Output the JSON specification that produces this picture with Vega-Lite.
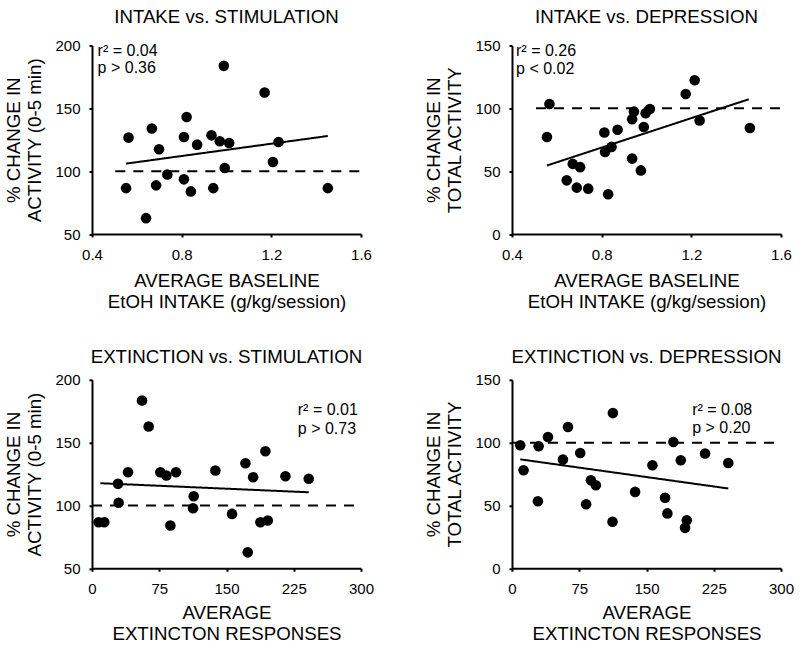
{
  "$schema": "https://vega.github.io/schema/vega-lite/v6.json",
  "autosize": {"type": "none"},
  "padding": {"left": 92, "top": 45.5, "right": 708, "bottom": 602.5},
  "background": "white",
  "columns": 2,
  "bounds": "flush",
  "spacing": {"row": 145.3, "column": 151},
  "config": {
    "font": "Liberation Sans",
    "view": {"stroke": null},
    "axis": {"grid": false, "labelFlush": false, "domainColor": "black", "domainWidth": 2, "tickColor": "black", "tickWidth": 2, "tickSize": 3, "labelFontSize": 15, "labelColor": "black", "titleFontSize": 18.7, "titleFontWeight": "normal", "titleColor": "black", "titleLineHeight": 21},
    "axisX": {"labelPadding": 10},
    "axisY": {"labelPadding": 9, "titlePadding": 10},
    "title": {"fontSize": 18.7, "fontWeight": "normal", "color": "black", "frame": "group", "baseline": "alphabetic", "anchor": "middle"},
    "text": {"font": "Liberation Sans"}
  },
  "concat": [
    {
      "width": 269, "height": 188.5,
      "title": {"text": "INTAKE vs. STIMULATION", "offset": 12},
      "layer": [
        {
          "data": {"values": [
            {"x":0.563,"y":126.7},{"x":0.552,"y":86.5},{"x":0.667,"y":133.9},{"x":0.699,"y":117.4},{"x":0.641,"y":62.6},{"x":0.686,"y":88.7},{"x":0.736,"y":97.4},{"x":0.822,"y":143.1},{"x":0.810,"y":127.2},{"x":0.810,"y":93.5},{"x":0.841,"y":83.9},{"x":0.869,"y":121.1},{"x":0.933,"y":128.5},{"x":0.970,"y":123.8},{"x":1.012,"y":122.4},{"x":0.941,"y":86.5},{"x":0.988,"y":183.8},{"x":0.992,"y":102.5},{"x":1.170,"y":162.6},{"x":1.207,"y":107.3},{"x":1.232,"y":123.2},{"x":1.452,"y":86.5}
          ]},
          "mark": {"type": "circle", "size": 112, "opacity": 1, "color": "black"},
          "encoding": {
            "x": {"field": "x", "type": "quantitative", "scale": {"domain": [0.4, 1.6], "nice": false, "zero": false}, "axis": {"values": [0.4, 0.8, 1.2, 1.6], "format": ".1f", "title": ["AVERAGE BASELINE", "EtOH INTAKE (g/kg/session)"], "titlePadding": 9}},
            "y": {"field": "y", "type": "quantitative", "scale": {"domain": [50, 200], "nice": false, "zero": false}, "axis": {"values": [50, 100, 150, 200], "title": ["% CHANGE IN", "ACTIVITY (0-5 min)"]}}
          }
        },
        {
          "data": {"values": [
            {"x":0.504,"y":100,"k":"ref"},{"x":1.6,"y":100,"k":"ref"},{"x":0.552,"y":106.0,"k":"fit"},{"x":1.452,"y":128.0,"k":"fit"}
          ]},
          "mark": {"type": "line", "color": "black", "strokeWidth": 2},
          "encoding": {
            "x": {"field": "x", "type": "quantitative"},
            "y": {"field": "y", "type": "quantitative"},
            "strokeDash": {"field": "k", "type": "nominal", "scale": {"domain": ["fit", "ref"], "range": [[1, 0], [10, 8]]}, "legend": null}
          }
        },
        {
          "data": {"values": [
            {"x":0.425,"y":191.5,"t":"r² = 0.04"},{"x":0.425,"y":177.8,"t":"p > 0.36"}
          ]},
          "mark": {"type": "text", "align": "left", "baseline": "alphabetic", "fontSize": 16, "color": "black"},
          "encoding": {
            "x": {"field": "x", "type": "quantitative"},
            "y": {"field": "y", "type": "quantitative"},
            "text": {"field": "t"}
          }
        }
      ]
    },
    {
      "width": 269, "height": 188.5,
      "title": {"text": "INTAKE vs. DEPRESSION", "offset": 12},
      "layer": [
        {
          "data": {"values": [
            {"x":0.567,"y":103.5},{"x":0.556,"y":77.2},{"x":0.644,"y":42.7},{"x":0.671,"y":55.8},{"x":0.704,"y":53.2},{"x":0.689,"y":36.9},{"x":0.740,"y":36.1},{"x":0.812,"y":80.8},{"x":0.815,"y":65.3},{"x":0.844,"y":69.3},{"x":0.871,"y":82.9},{"x":0.829,"y":31.6},{"x":0.936,"y":91.4},{"x":0.944,"y":97.4},{"x":0.936,"y":60.0},{"x":0.975,"y":50.6},{"x":0.988,"y":85.1},{"x":0.996,"y":96.1},{"x":1.015,"y":99.5},{"x":1.175,"y":111.4},{"x":1.215,"y":122.4},{"x":1.237,"y":90.3},{"x":1.461,"y":84.3}
          ]},
          "mark": {"type": "circle", "size": 112, "opacity": 1, "color": "black"},
          "encoding": {
            "x": {"field": "x", "type": "quantitative", "scale": {"domain": [0.4, 1.6], "nice": false, "zero": false}, "axis": {"values": [0.4, 0.8, 1.2, 1.6], "format": ".1f", "title": ["AVERAGE BASELINE", "EtOH INTAKE (g/kg/session)"], "titlePadding": 9}},
            "y": {"field": "y", "type": "quantitative", "scale": {"domain": [0, 150], "nice": false, "zero": false}, "axis": {"values": [0, 50, 100, 150], "title": ["% CHANGE IN", "TOTAL ACTIVITY"]}}
          }
        },
        {
          "data": {"values": [
            {"x":0.507,"y":100,"k":"ref"},{"x":1.6,"y":100,"k":"ref"},{"x":0.556,"y":54.5,"k":"fit"},{"x":1.456,"y":107.2,"k":"fit"}
          ]},
          "mark": {"type": "line", "color": "black", "strokeWidth": 2},
          "encoding": {
            "x": {"field": "x", "type": "quantitative"},
            "y": {"field": "y", "type": "quantitative"},
            "strokeDash": {"field": "k", "type": "nominal", "scale": {"domain": ["fit", "ref"], "range": [[1, 0], [10, 8]]}, "legend": null}
          }
        },
        {
          "data": {"values": [
            {"x":0.418,"y":141.4,"t":"r² = 0.26"},{"x":0.418,"y":127.7,"t":"p < 0.02"}
          ]},
          "mark": {"type": "text", "align": "left", "baseline": "alphabetic", "fontSize": 16, "color": "black"},
          "encoding": {
            "x": {"field": "x", "type": "quantitative"},
            "y": {"field": "y", "type": "quantitative"},
            "text": {"field": "t"}
          }
        }
      ]
    },
    {
      "width": 269, "height": 188.5,
      "title": {"text": "EXTINCTION vs. STIMULATION", "offset": 6},
      "layer": [
        {
          "data": {"values": [
            {"x":7.4,"y":86.6},{"x":13.7,"y":86.6},{"x":29.0,"y":117.2},{"x":29.7,"y":102.1},{"x":40.2,"y":126.4},{"x":55.8,"y":183.5},{"x":63.2,"y":162.8},{"x":76.2,"y":126.4},{"x":82.9,"y":123.8},{"x":93.7,"y":126.4},{"x":87.4,"y":84.0},{"x":113.4,"y":107.3},{"x":112.7,"y":97.8},{"x":137.6,"y":127.8},{"x":156.2,"y":93.3},{"x":171.1,"y":133.6},{"x":173.7,"y":62.7},{"x":179.7,"y":122.5},{"x":193.4,"y":143.2},{"x":187.8,"y":86.6},{"x":196.0,"y":88.0},{"x":215.7,"y":123.2},{"x":241.7,"y":121.2}
          ]},
          "mark": {"type": "circle", "size": 112, "opacity": 1, "color": "black"},
          "encoding": {
            "x": {"field": "x", "type": "quantitative", "scale": {"domain": [0, 300], "nice": false, "zero": false}, "axis": {"values": [0, 75, 150, 225, 300], "title": ["AVERAGE", "EXTINCTON RESPONSES"], "titlePadding": 7}},
            "y": {"field": "y", "type": "quantitative", "scale": {"domain": [50, 200], "nice": false, "zero": false}, "axis": {"values": [50, 100, 150, 200], "title": ["% CHANGE IN", "ACTIVITY (0-5 min)"]}}
          }
        },
        {
          "data": {"values": [
            {"x":0,"y":100,"k":"ref"},{"x":300,"y":100,"k":"ref"},{"x":9.3,"y":117.7,"k":"fit"},{"x":241.7,"y":110.5,"k":"fit"}
          ]},
          "mark": {"type": "line", "color": "black", "strokeWidth": 2},
          "encoding": {
            "x": {"field": "x", "type": "quantitative"},
            "y": {"field": "y", "type": "quantitative"},
            "strokeDash": {"field": "k", "type": "nominal", "scale": {"domain": ["fit", "ref"], "range": [[1, 0], [10, 8]]}, "legend": null}
          }
        },
        {
          "data": {"values": [
            {"x":229.5,"y":171.6,"t":"r² = 0.01"},{"x":229.5,"y":157.2,"t":"p > 0.73"}
          ]},
          "mark": {"type": "text", "align": "left", "baseline": "alphabetic", "fontSize": 16, "color": "black"},
          "encoding": {
            "x": {"field": "x", "type": "quantitative"},
            "y": {"field": "y", "type": "quantitative"},
            "text": {"field": "t"}
          }
        }
      ]
    },
    {
      "width": 269, "height": 188.5,
      "title": {"text": "EXTINCTION vs. DEPRESSION", "offset": 6},
      "layer": [
        {
          "data": {"values": [
            {"x":9.2,"y":97.9},{"x":12.9,"y":78.0},{"x":29.7,"y":97.1},{"x":28.9,"y":53.4},{"x":40.1,"y":104.4},{"x":56.8,"y":86.5},{"x":62.4,"y":112.4},{"x":76.1,"y":91.8},{"x":82.7,"y":51.0},{"x":88.0,"y":70.1},{"x":93.5,"y":66.1},{"x":112.5,"y":123.5},{"x":112.1,"y":37.0},{"x":137.3,"y":60.8},{"x":156.6,"y":82.0},{"x":170.7,"y":56.1},{"x":173.3,"y":43.7},{"x":180.0,"y":100.5},{"x":188.2,"y":86.0},{"x":194.9,"y":38.3},{"x":193.0,"y":32.2},{"x":215.3,"y":91.3},{"x":241.2,"y":83.8}
          ]},
          "mark": {"type": "circle", "size": 112, "opacity": 1, "color": "black"},
          "encoding": {
            "x": {"field": "x", "type": "quantitative", "scale": {"domain": [0, 300], "nice": false, "zero": false}, "axis": {"values": [0, 75, 150, 225, 300], "title": ["AVERAGE", "EXTINCTON RESPONSES"], "titlePadding": 7}},
            "y": {"field": "y", "type": "quantitative", "scale": {"domain": [0, 150], "nice": false, "zero": false}, "axis": {"values": [0, 50, 100, 150], "title": ["% CHANGE IN", "TOTAL  ACTIVITY"]}}
          }
        },
        {
          "data": {"values": [
            {"x":0,"y":100,"k":"ref"},{"x":300,"y":100,"k":"ref"},{"x":9.2,"y":86.7,"k":"fit"},{"x":241.2,"y":63.5,"k":"fit"}
          ]},
          "mark": {"type": "line", "color": "black", "strokeWidth": 2},
          "encoding": {
            "x": {"field": "x", "type": "quantitative"},
            "y": {"field": "y", "type": "quantitative"},
            "strokeDash": {"field": "k", "type": "nominal", "scale": {"domain": ["fit", "ref"], "range": [[1, 0], [10, 8]]}, "legend": null}
          }
        },
        {
          "data": {"values": [
            {"x":201,"y":121.6,"t":"r² = 0.08"},{"x":201,"y":107.3,"t":"p > 0.20"}
          ]},
          "mark": {"type": "text", "align": "left", "baseline": "alphabetic", "fontSize": 16, "color": "black"},
          "encoding": {
            "x": {"field": "x", "type": "quantitative"},
            "y": {"field": "y", "type": "quantitative"},
            "text": {"field": "t"}
          }
        }
      ]
    }
  ]
}
